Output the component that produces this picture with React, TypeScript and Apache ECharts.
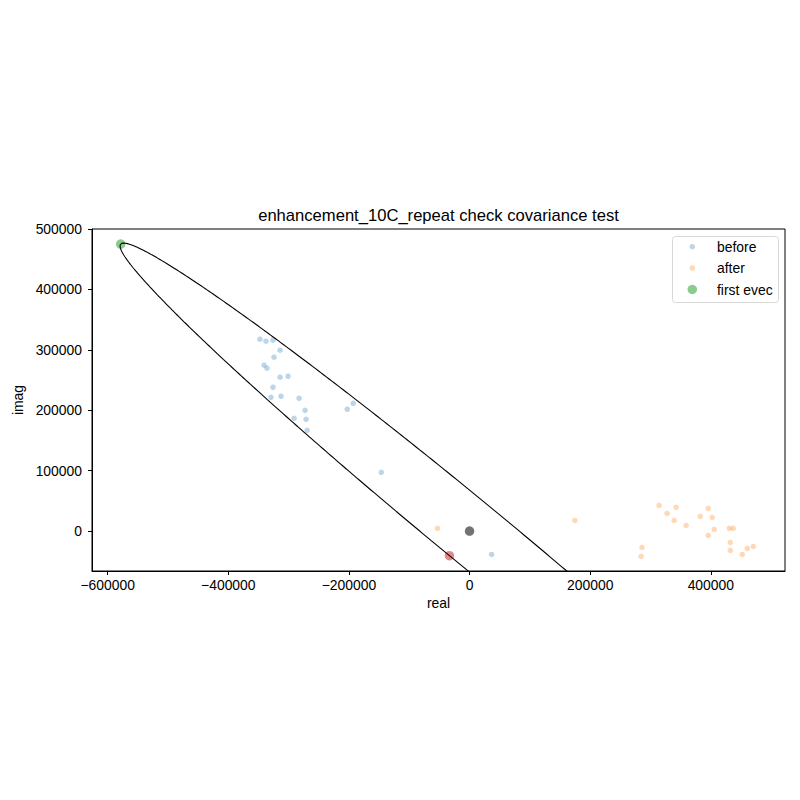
import React, { useEffect, useRef } from "react";
import * as echarts from "echarts";

// "before" points (real, imag)
const beforeReal = [-347500, -337500, -325900, -314200, -324200, -340800, -335800, -314200, -300900, -325900, -329200, -312600, -282600, -272700, -290900, -271000, -269300, -202800, -192900, -146300, 36600];
const beforeImag = [317600, 314300, 316000, 299400, 287800, 274600, 269600, 254700, 256300, 238100, 221500, 223200, 219900, 200000, 186700, 185100, 166900, 201700, 211600, 97300, -38600];
// "after" points (real, imag)
const afterReal = [-53200, 174600, 314200, 327500, 342500, 339200, 359100, 382400, 395700, 402300, 405600, 395700, 430600, 437200, 432300, 432300, 452200, 460500, 470500, 286000, 284300];
const afterImag = [4500, 17700, 42600, 29300, 39300, 17700, 9400, 24400, 37600, 22700, 2800, -7100, 4500, 4500, -18700, -32000, -38600, -28700, -25400, -27000, -41900];
// eigenvectors (scaled) and center
const firstEvec = [-578500, 475000];
const secondEvec = [-33340, -40600];
const center = [0, 0];

const xTicks = [-600000, -400000, -200000, 0, 200000, 400000];
const yTicks = [0, 100000, 200000, 300000, 400000, 500000];
const xRange = [-626000, 523000];
const yRange = [-66000, 500000];

const FONT = "'Liberation Sans', Arial, Helvetica, sans-serif";

export default function App() {
  const ref = useRef<HTMLDivElement>(null);
  useEffect(() => {
    if (!ref.current) return;
    const chart = echarts.init(ref.current, undefined, { renderer: "svg" });
    const before = beforeReal.map((x, i) => [x, beforeImag[i]]);
    const after = afterReal.map((x, i) => [x, afterImag[i]]);
    const ellipse: number[][] = [];
    const N = 720;
    for (let k = 0; k <= N; k++) {
      const t = (2 * Math.PI * k) / N;
      ellipse.push([
        center[0] + firstEvec[0] * Math.cos(t) + secondEvec[0] * Math.sin(t),
        center[1] + firstEvec[1] * Math.cos(t) + secondEvec[1] * Math.sin(t),
      ]);
    }
    const fmt = (v: number) => (v < 0 ? "\u2212" + Math.abs(v) : String(v));
    chart.setOption({
      animation: false,
      textStyle: { fontFamily: FONT },
      grid: {
        left: 92,
        right: 15,
        top: 229,
        bottom: 229,
        show: true,
        borderColor: "#000",
        borderWidth: 1,
        backgroundColor: "transparent",
      },
      xAxis: {
        type: "value",
        min: xRange[0],
        max: xRange[1],
        name: "real",
        nameLocation: "middle",
        nameGap: 25,
        nameTextStyle: { fontSize: 13.9, color: "#000", fontFamily: FONT },
        axisLine: { show: true, onZero: false, lineStyle: { color: "#000", width: 1 } },
        axisTick: { show: true, inside: false, length: 4, lineStyle: { color: "#000" }, customValues: xTicks },
        axisLabel: { fontSize: 13.9, color: "#000", margin: 7, formatter: fmt, customValues: xTicks, fontFamily: FONT },
        splitLine: { show: false },
      },
      yAxis: {
        type: "value",
        min: yRange[0],
        max: yRange[1],
        name: "imag",
        nameLocation: "middle",
        nameGap: 62,
        nameTextStyle: { fontSize: 13.9, color: "#000", fontFamily: FONT },
        axisLine: { show: true, onZero: false, lineStyle: { color: "#000", width: 1 } },
        axisTick: { show: true, inside: false, length: 4, lineStyle: { color: "#000" }, customValues: yTicks },
        axisLabel: { fontSize: 13.9, color: "#000", margin: 10, formatter: fmt, customValues: yTicks, fontFamily: FONT },
        splitLine: { show: false },
      },
      series: [
        {
          name: "before",
          type: "scatter",
          data: before,
          symbolSize: 5.5,
          itemStyle: { color: "#1f77b4", opacity: 0.3 },
          z: 2,
        },
        {
          name: "after",
          type: "scatter",
          data: after,
          symbolSize: 5.5,
          itemStyle: { color: "#ff7f0e", opacity: 0.3 },
          z: 2,
        },
        {
          name: "first evec",
          type: "scatter",
          data: [firstEvec],
          symbolSize: 9.5,
          itemStyle: { color: "#2ca02c", opacity: 0.55 },
          z: 2,
        },
        {
          name: "second evec",
          type: "scatter",
          data: [secondEvec],
          symbolSize: 9.5,
          itemStyle: { color: "#d62728", opacity: 0.55 },
          z: 2,
        },
        {
          name: "center",
          type: "scatter",
          data: [center],
          symbolSize: 9.5,
          itemStyle: { color: "#000", opacity: 0.55 },
          z: 2,
        },
        {
          name: "ellipse",
          type: "line",
          data: ellipse,
          showSymbol: false,
          clip: true,
          lineStyle: { color: "#000", width: 1.1 },
          z: 3,
        },
      ],
      graphic: [
        {
          type: "text",
          x: 438.5,
          y: 215,
          style: {
            text: "enhancement_10C_repeat check covariance test",
            fontSize: 16.6,
            fontFamily: FONT,
            fill: "#000",
            textAlign: "center",
            textVerticalAlign: "middle",
          },
        },
        {
          type: "rect",
          shape: { x: 672.5, y: 236.5, width: 106, height: 66, r: 3 },
          style: { fill: "rgba(255,255,255,0.8)", stroke: "#d8d8d8", lineWidth: 1 },
          z: 10,
        },
        { type: "circle", shape: { cx: 692.3, cy: 246.7, r: 2.75 }, style: { fill: "#1f77b4", opacity: 0.3 }, z: 11 },
        { type: "circle", shape: { cx: 692.3, cy: 268, r: 2.75 }, style: { fill: "#ff7f0e", opacity: 0.3 }, z: 11 },
        { type: "circle", shape: { cx: 692.3, cy: 289.5, r: 4.75 }, style: { fill: "#2ca02c", opacity: 0.55 }, z: 11 },
        { type: "text", x: 717, y: 246.7, style: { text: "before", fontSize: 13.9, fontFamily: FONT, fill: "#000", textVerticalAlign: "middle" }, z: 11 },
        { type: "text", x: 717, y: 268, style: { text: "after", fontSize: 13.9, fontFamily: FONT, fill: "#000", textVerticalAlign: "middle" }, z: 11 },
        { type: "text", x: 717, y: 289.5, style: { text: "first evec", fontSize: 13.9, fontFamily: FONT, fill: "#000", textVerticalAlign: "middle" }, z: 11 },
      ],
    });
    return () => chart.dispose();
  }, []);
  return <div ref={ref} style={{ width: 800, height: 800, position: "absolute", left: 0, top: 0 }} />;
}
